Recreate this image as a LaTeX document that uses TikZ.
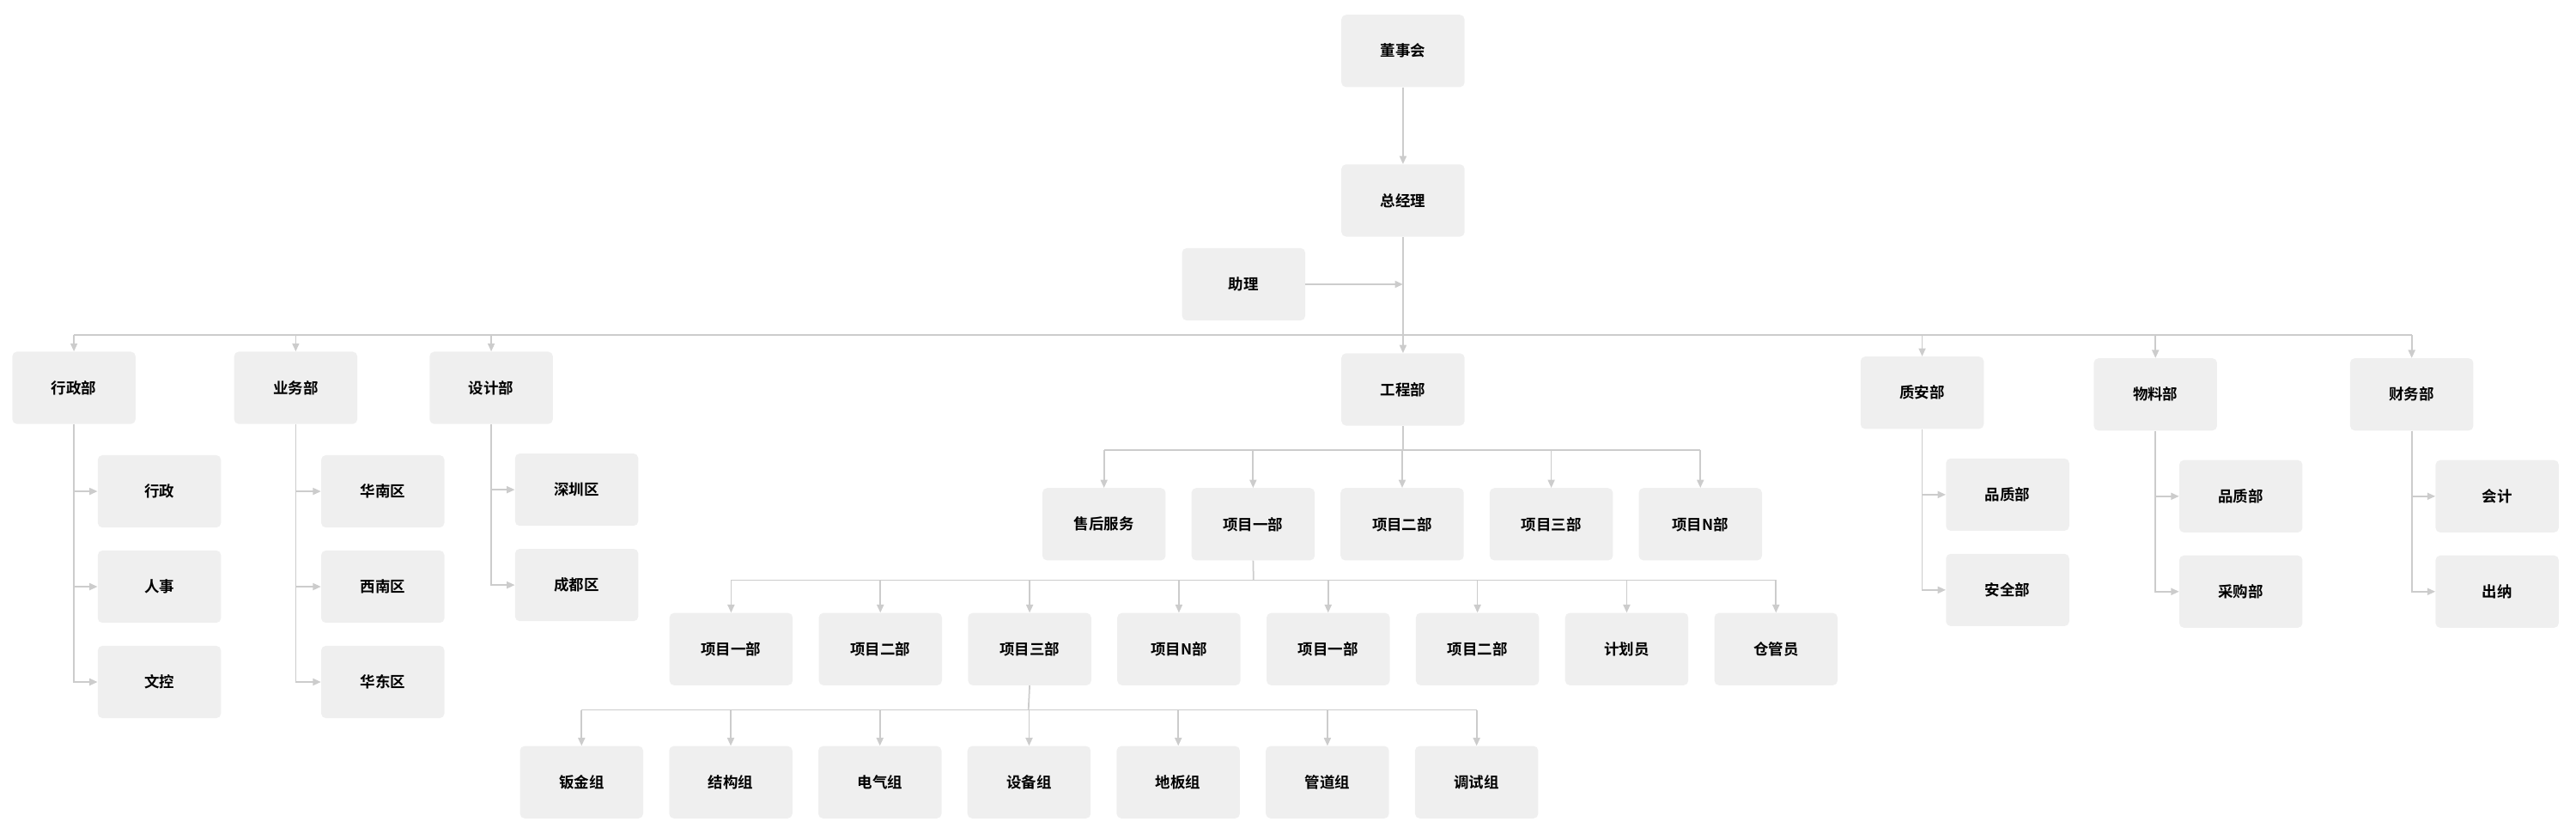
\documentclass[tikz,border=0pt]{standalone}
\usepackage{fontspec}
\setmainfont{Noto Sans CJK SC}[BoldFont={Noto Sans CJK SC Bold}]
\usetikzlibrary{arrows.meta}
\definecolor{boxgray}{HTML}{EFEFEF}
\definecolor{linegray}{HTML}{CCCCCC}
\tikzset{
  unit/.style={rectangle, rounded corners=4pt, fill=boxgray, draw=none,
    minimum width=3.75cm, minimum height=2.2cm, font=\bfseries\fontsize{13}{15}\selectfont},
  link/.style={draw=linegray, line width=1.3pt},
  arr/.style={link, -{Triangle[length=7pt,width=6pt]}}
}
\begin{document}
\begin{tikzpicture}[x=0.05cm, y=-0.05cm]
\useasboundingbox (0,0) rectangle (1568,507);

% top
\node[unit] (board) at (854,31) {董事会};
\node[unit] (gm) at (854,122) {总经理};
\node[unit] (asst) at (757,173) {助理};
\draw[arr] (board) -- (gm);
\coordinate (ajoin) at (854,173);
\draw[arr] (asst) -- (ajoin);

% departments
\node[unit] (admin) at (45,236) {行政部};
\node[unit] (biz) at (180,236) {业务部};
\node[unit] (design) at (299,236) {设计部};
\node[unit] (eng) at (854,237) {工程部};
\node[unit] (qs) at (1170,239) {质安部};
\node[unit] (mat) at (1312,240) {物料部};
\node[unit] (fin) at (1468,240) {财务部};
\coordinate (busL) at (45,204);
\coordinate (busR) at (1468,204);
\draw[link] (gm.south) -- (854,204);
\draw[link] (busL) -- (busR);
\foreach \d in {admin,biz,design,eng,qs,mat,fin}
  \draw[arr] (\d.north |- busL) -- (\d.north);

% side lists
\foreach \d/\x/\y/\names in {admin/97/299/{行政,人事,文控},
    biz/233/299/{华南区,西南区,华东区},
    design/351/298/{深圳区,成都区},
    qs/1222/301/{品质部,安全部},
    mat/1364/302/{品质部,采购部},
    fin/1520/302/{会计,出纳}} {
  \foreach \n [count=\k] in \names {
    \node[unit] (\d-\k) at (\x,\y+58*\k-58) {\n};
    \draw[arr] (\d.south) |- (\d-\k.west);
  }
}

% engineering
\coordinate (ebus) at (854,274);
\draw[link] (eng.south) -- (ebus);
\draw[link] (672,274) -- (1035,274);
\foreach \n [count=\k] in {售后服务,项目一部,项目二部,项目三部,项目N部} {
  \node[unit] (e-\k) at ({672+90.75*(\k-1)},319) {\n};
  \draw[arr] (e-\k.north |- ebus) -- (e-\k.north);
}

\coordinate (pbus) at (763,353);
\draw[link] (e-2.south) -- (pbus);
\draw[link] (445,353) -- (1081,353);
\foreach \n [count=\k] in {项目一部,项目二部,项目三部,项目N部,项目一部,项目二部,计划员,仓管员} {
  \node[unit] (p-\k) at ({445+90.86*(\k-1)},395) {\n};
  \draw[arr] (p-\k.north |- pbus) -- (p-\k.north);
}

\coordinate (gbus) at (626,432);
\draw[link] (p-3.south) -- (gbus);
\draw[link] (354,432) -- (899,432);
\foreach \n [count=\k] in {钣金组,结构组,电气组,设备组,地板组,管道组,调试组} {
  \node[unit] (g-\k) at ({354+90.8*(\k-1)},476) {\n};
  \draw[arr] (g-\k.north |- gbus) -- (g-\k.north);
}
\end{tikzpicture}
\end{document}
